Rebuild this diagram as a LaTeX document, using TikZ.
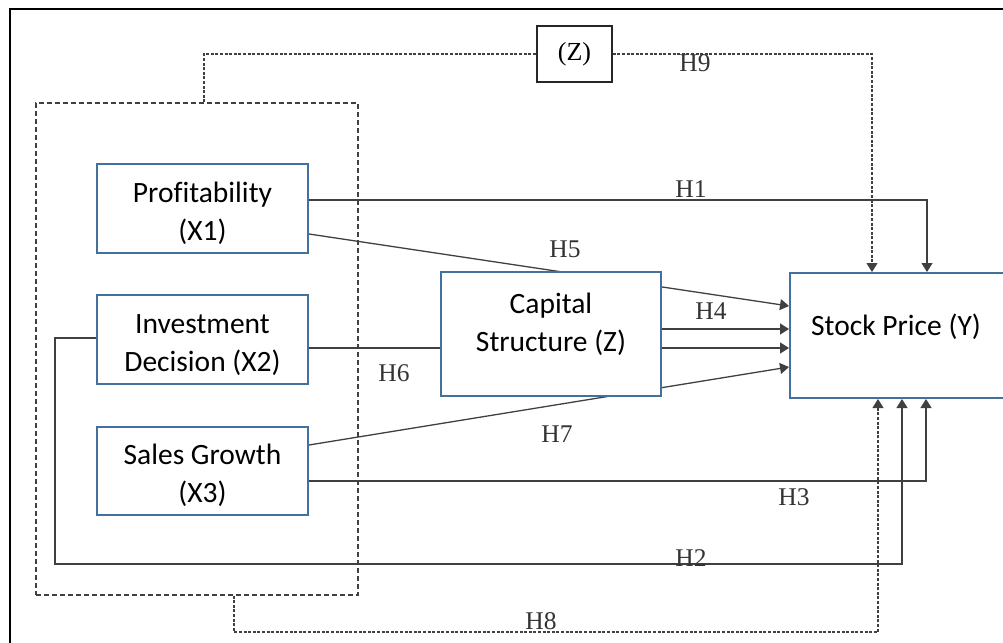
\documentclass[tikz,border=0pt]{standalone}
\usepackage{fontspec}
\setmainfont{Carlito}[Ligatures=NoCommon]
\newfontfamily\hfont{Liberation Serif}
\usetikzlibrary{arrows.meta,backgrounds}
\definecolor{boxblue}{HTML}{41719C}
\definecolor{linegray}{HTML}{404040}
\begin{document}
\begin{tikzpicture}[x=1pt,y=-1pt,
  varbox/.style={draw=boxblue,line width=2pt,fill=white,inner sep=0pt},
  boxtext/.style={align=center,font=\fontsize{29.5}{38}\selectfont,inner sep=0pt},
  hlabel/.style={font=\hfont\fontsize{25.5}{25.5}\selectfont,text=black!80,inner sep=0pt},
  conn/.style={draw=linegray,line width=1.3pt},
  arr/.style={conn,-{Triangle[length=9pt,width=11pt]}},
  dotconn/.style={draw=linegray,line width=1.1pt,dash pattern=on 3pt off 1.6pt},
  dotarr/.style={dotconn,-{Triangle[length=9pt,width=11pt]}},
  groupbox/.style={draw=linegray,line width=1.3pt,dash pattern=on 5pt off 3pt,inner sep=0pt}]
\useasboundingbox (0,0) rectangle (1003,642);
% outer frame
\draw[line width=2pt] (10,660) -- (10,9) -- (1015,9);
% group dashed box
\node[groupbox,minimum width=322,minimum height=492] (g) at (197,349) {};
% nodes
\node[varbox,minimum width=211,minimum height=89] (p) at (202.5,208.5) {};
\node[boxtext] (pt) at (202.5,213.5) {Profitability\\(X1)};
\node[varbox,minimum width=211,minimum height=89] (i) at (202.5,339.5) {};
\node[boxtext] (it) at (202.5,345.5) {Investment\\Decision (X2)};
\node[varbox,minimum width=211,minimum height=88] (s) at (202.5,471) {};
\node[boxtext] (st) at (202.5,475.5) {Sales Growth\\(X3)};
\node[varbox,minimum width=222,minimum height=125] (y) at (901,335.5) {};
\node[boxtext] (yt) at (896,327) {Stock Price (Y)};
\node[draw=black!85,line width=1.5pt,minimum width=75,minimum height=56,inner sep=0pt,
      font=\hfont\fontsize{26}{26}\selectfont] (z) at (574.5,54) {(Z)};
% lines passing behind capital structure
\begin{scope}[on background layer]
\draw[arr] ([yshift=-25.5pt]p.east) -- ([yshift=29.5pt]y.west);
\draw[arr] ([yshift=26pt]s.east) -- ([yshift=-31.5pt]y.west);
\end{scope}
\node[varbox,minimum width=220,minimum height=124] (c) at (551,334) {};
\node[boxtext] (ct) at (551,324) {Capital\\Structure (Z)};
% coordinates
\coordinate (i6) at ([yshift=-8.5pt]i.east);
\coordinate (c4a) at ([yshift=5pt]c.east);
\coordinate (c4b) at ([yshift=-14pt]c.east);
\coordinate (i2) at ([yshift=1.5pt]i.west);
\coordinate (h2) at (55,564);
\coordinate (g8) at ([xshift=37pt]g.south);
\coordinate (y8) at ([xshift=-23pt]y.south);
\coordinate (h8) at (0,632);
\coordinate (g9) at ([xshift=7pt]g.north);
% connectors
\draw[arr] ([yshift=8.5pt]p.east) -| ([xshift=26pt]y.north);
\draw[conn] (i6) -- (i6 -| c.west);
\draw[arr] (c4a) -- (c4a -| y.west);
\draw[arr] (c4b) -- (c4b -| y.west);
\draw[arr] ([yshift=-10pt]s.east) -| ([xshift=25pt]y.south);
\draw[arr] (i2) -| (h2) -| ([xshift=1pt]y.south);
\draw[dotconn] (g9) |- (z.west);
\draw[dotarr] (z.east) -| ([xshift=-29pt]y.north);
\draw[dotarr] (g8) |- (h8 -| y8) -- (y8);
% labels
\node[hlabel] (l9) at (695,63) {H9};
\node[hlabel] (l1) at (691,189) {H1};
\node[hlabel] (l5) at (565,249) {H5};
\node[hlabel] (l4) at (711,311) {H4};
\node[hlabel] (l6) at (394,373) {H6};
\node[hlabel] (l7) at (557,434) {H7};
\node[hlabel] (l3) at (794,497) {H3};
\node[hlabel] (l2) at (691,558) {H2};
\node[hlabel] (l8) at (541,621) {H8};
\end{tikzpicture}
\end{document}
